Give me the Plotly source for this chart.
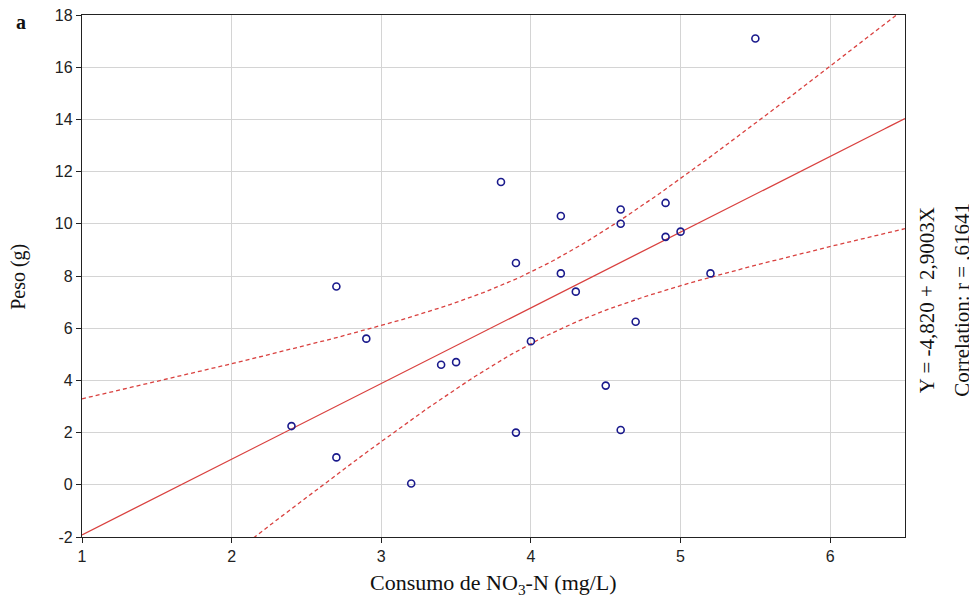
import numpy as np
import plotly.graph_objects as go

consumo = [2.4, 2.7, 2.7, 2.9, 3.2, 3.4, 3.5, 3.8, 3.9, 3.9, 4.0, 4.2, 4.2, 4.3,
           4.5, 4.6, 4.6, 4.6, 4.7, 4.9, 4.9, 5.0, 5.2, 5.5]
peso = [2.25, 7.6, 1.05, 5.6, 0.05, 4.6, 4.7, 11.6, 8.5, 2.0, 5.5, 10.3, 8.1, 7.4,
        3.8, 10.55, 10.0, 2.1, 6.25, 10.8, 9.5, 9.7, 8.1, 17.1]
intercept = -4.820
slope = 2.9003
x_ticks = [1, 2, 3, 4, 5, 6]
y_ticks = [-2, 0, 2, 4, 6, 8, 10, 12, 14, 16, 18]
y_tick_labels = ["-2", "0", "2", "4", "6", "8", "10", "12", "14", "16", "18"]

x = np.array(consumo)
y = np.array(peso)
n = len(x)
resid = y - (intercept + slope * x)
s = np.sqrt(np.sum(resid ** 2) / (n - 2))
xbar = x.mean()
sxx = np.sum((x - xbar) ** 2)
t = 2.074
xs = np.linspace(1, 6.5, 200)
fit = intercept + slope * xs
half = t * s * np.sqrt(1 / n + (xs - xbar) ** 2 / sxx)

red = "#d9413f"
serif = "Liberation Serif, Times New Roman, serif"
fig = go.Figure()
fig.add_trace(go.Scatter(x=xs, y=fit + half, mode="lines",
                         line=dict(color=red, width=1.3, dash="4px,3px")))
fig.add_trace(go.Scatter(x=xs, y=fit - half, mode="lines",
                         line=dict(color=red, width=1.3, dash="4px,3px")))
fig.add_trace(go.Scatter(x=xs, y=fit, mode="lines", line=dict(color=red, width=1.3)))
fig.add_trace(go.Scatter(x=consumo, y=peso, mode="markers",
                         marker=dict(symbol="circle-open", size=7, color="#1a1a8c",
                                     line=dict(width=1.6, color="#1a1a8c"))))

axis_common = dict(showline=True, linecolor="#222", linewidth=1.3, mirror=True,
                   showgrid=True, gridcolor="#d4d4d4", gridwidth=1,
                   ticks="outside", ticklen=5, tickcolor="#222", zeroline=False,
                   automargin=False, ticklabeloverflow="allow",
                   tickfont=dict(family="Liberation Sans, Arial", size=16, color="#222"))
fig.update_xaxes(range=[1, 6.5], tickvals=x_ticks, **axis_common)
fig.update_yaxes(range=[-2, 18], tickvals=y_ticks, ticktext=y_tick_labels, **axis_common)

# page body has an 8px margin: figure shifted by 8px right/down
fig.update_layout(
    width=969, height=594, showlegend=False,
    plot_bgcolor="white", paper_bgcolor="white",
    margin=dict(l=74, r=72, t=7, b=65, autoexpand=False),
    annotations=[
        dict(text="<b>a</b>", xref="paper", yref="paper", x=-0.083, y=1.012,
             xanchor="left", yanchor="top", showarrow=False,
             font=dict(family=serif, size=20, color="#111")),
        dict(text="Peso (g)", xref="paper", yref="paper", x=-0.078, y=0.498,
             xanchor="center", yanchor="middle", textangle=-90, showarrow=False,
             font=dict(family=serif, size=20, color="#111")),
        dict(text="Consumo de NO<sub>3</sub>-N (mg/L)", xref="paper", yref="paper",
             x=0.5, y=-0.09, xanchor="center", yanchor="middle", showarrow=False,
             font=dict(family=serif, size=22, color="#111")),
        dict(text="Y = -4,820 + 2,9003X", xref="paper", yref="paper", x=1.027, y=0.454,
             xanchor="center", yanchor="middle", textangle=-90, showarrow=False,
             font=dict(family=serif, size=21, color="#111")),
        dict(text="Correlation: r = ,61641", xref="paper", yref="paper", x=1.069, y=0.454,
             xanchor="center", yanchor="middle", textangle=-90, showarrow=False,
             font=dict(family=serif, size=21, color="#111")),
    ],
)
fig.write_html("out.html")
